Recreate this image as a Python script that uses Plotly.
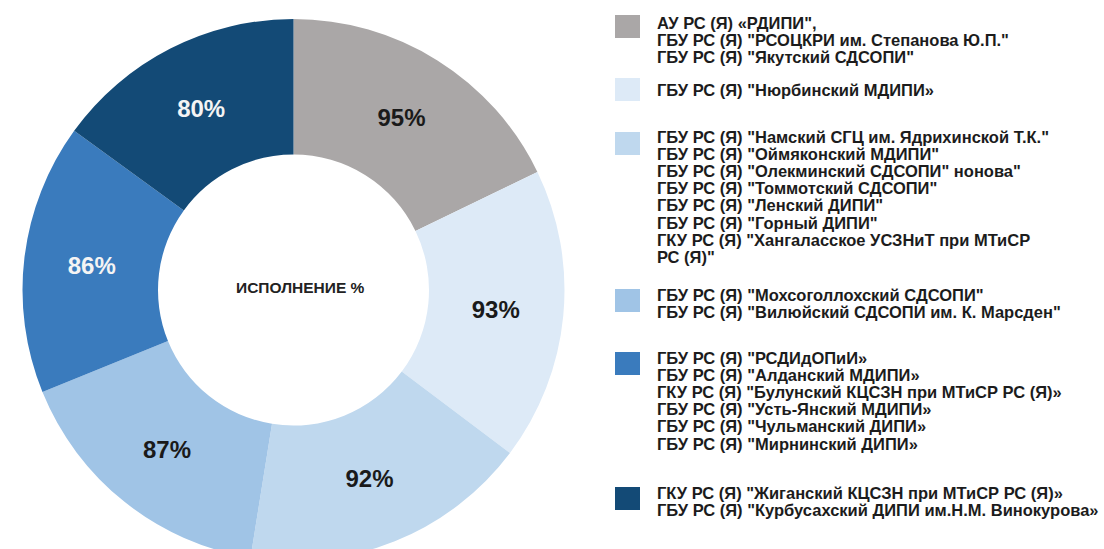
import plotly.graph_objects as go

# ---- data ----
values = [95, 93, 92, 87, 86, 80]
group_names = [
    "АУ РС (Я) «РДИПИ» и др.",
    "ГБУ РС (Я) \"Нюрбинский МДИПИ»",
    "ГБУ РС (Я) \"Намский СГЦ\" и др.",
    "ГБУ РС (Я) \"Мохсоголлохский СДСОПИ\" и др.",
    "ГБУ РС (Я) \"РСДИдОПиИ» и др.",
    "ГКУ РС (Я) \"Жиганский КЦСЗН\" и др.",
]
legend_lines = [
    ["АУ РС (Я) «РДИПИ\",",
     "ГБУ РС (Я) \"РСОЦКРИ им. Степанова Ю.П.\"",
     "ГБУ РС (Я) \"Якутский СДСОПИ\""],
    ["ГБУ РС (Я) \"Нюрбинский МДИПИ»"],
    ["ГБУ РС (Я) \"Намский СГЦ им. Ядрихинской Т.К.\"",
     "ГБУ РС (Я) \"Оймяконский МДИПИ\"",
     "ГБУ РС (Я) \"Олекминский СДСОПИ\" нонова\"",
     "ГБУ РС (Я) \"Томмотский СДСОПИ\"",
     "ГБУ РС (Я) \"Ленский ДИПИ\"",
     "ГБУ РС (Я) \"Горный ДИПИ\"",
     "ГКУ РС (Я) \"Хангаласское УСЗНиТ при МТиСР",
     "РС (Я)\""],
    ["ГБУ РС (Я) \"Мохсоголлохский СДСОПИ\"",
     "ГБУ РС (Я) \"Вилюйский СДСОПИ им. К. Марсден\""],
    ["ГБУ РС (Я) \"РСДИдОПиИ»",
     "ГБУ РС (Я) \"Алданский МДИПИ»",
     "ГКУ РС (Я) \"Булунский КЦСЗН при МТиСР РС (Я)»",
     "ГБУ РС (Я) \"Усть-Янский МДИПИ»",
     "ГБУ РС (Я) \"Чульманский ДИПИ»",
     "ГБУ РС (Я) \"Мирнинский ДИПИ»"],
    ["ГКУ РС (Я) \"Жиганский КЦСЗН при МТиСР РС (Я)»",
     "ГБУ РС (Я) \"Курбусахский ДИПИ им.Н.М. Винокурова»"],
]
center_title = "ИСПОЛНЕНИЕ %"

# ---- styles ----
colors = ["#aaa7a7", "#ddeaf7", "#bfd8ee", "#a0c4e6", "#3a7bbd", "#134a76"]
text_colors = ["#1a1a1a", "#1a1a1a", "#1a1a1a", "#1a1a1a", "#f4f4f4", "#f4f4f4"]
FONT = "Liberation Sans, Arial, sans-serif"

W, H = 1104, 570
cx, cy, r = 293.5, 290.0, 271.0  # pixel geometry of the donut


def px_x(x):
    return x / W


def px_y(y):
    return (H - y) / H


fig = go.Figure()
fig.add_trace(go.Pie(
    labels=group_names,
    values=values,
    hole=0.5,
    sort=False,
    direction="clockwise",
    rotation=0,
    marker=dict(colors=colors, line=dict(width=0)),
    texttemplate="<b>%{value}%</b>",
    textposition="inside",
    insidetextorientation="horizontal",
    textfont=dict(family=FONT, size=24, color=text_colors),
    showlegend=False,
    hoverinfo="label+value",
    domain=dict(x=[px_x(cx - r), px_x(cx + r)],
                y=[px_y(cy + r), px_y(cy - r)]),
))

annotations = [dict(
    text="<b>" + center_title + "</b>",
    x=px_x(300), y=px_y(287), xref="paper", yref="paper",
    xanchor="center", yanchor="middle",
    showarrow=False,
    font=dict(family=FONT, size=15.5, color="#222222"),
)]
shapes = []

group_first_line = [23, 90, 137, 295, 358, 493]
square_tops = [15, 78, 132, 289, 352, 487]
line_step = 17.1
for gi, lines in enumerate(legend_lines):
    t = square_tops[gi]
    shapes.append(dict(
        type="rect", xref="paper", yref="paper",
        x0=px_x(615), x1=px_x(640), y0=px_y(t + 23), y1=px_y(t),
        fillcolor=colors[gi], line=dict(width=0),
    ))
    for li, line in enumerate(lines):
        annotations.append(dict(
            text="<b>" + line + "</b>",
            x=px_x(655), y=px_y(group_first_line[gi] + li * line_step),
            xref="paper", yref="paper", xanchor="left", yanchor="middle",
            showarrow=False,
            font=dict(family=FONT, size=16.5, color="#1c1c1c"),
        ))

fig.update_layout(
    width=W, height=H,
    margin=dict(l=0, r=0, t=0, b=0),
    paper_bgcolor="white",
    plot_bgcolor="white",
    annotations=annotations,
    shapes=shapes,
)

fig.write_html(
    "out.html",
    config={"displayModeBar": False},
    post_script=("document.body.style.margin='0';"
                 "document.body.style.overflow='hidden';"
                 "document.documentElement.style.overflow='hidden';"),
)
